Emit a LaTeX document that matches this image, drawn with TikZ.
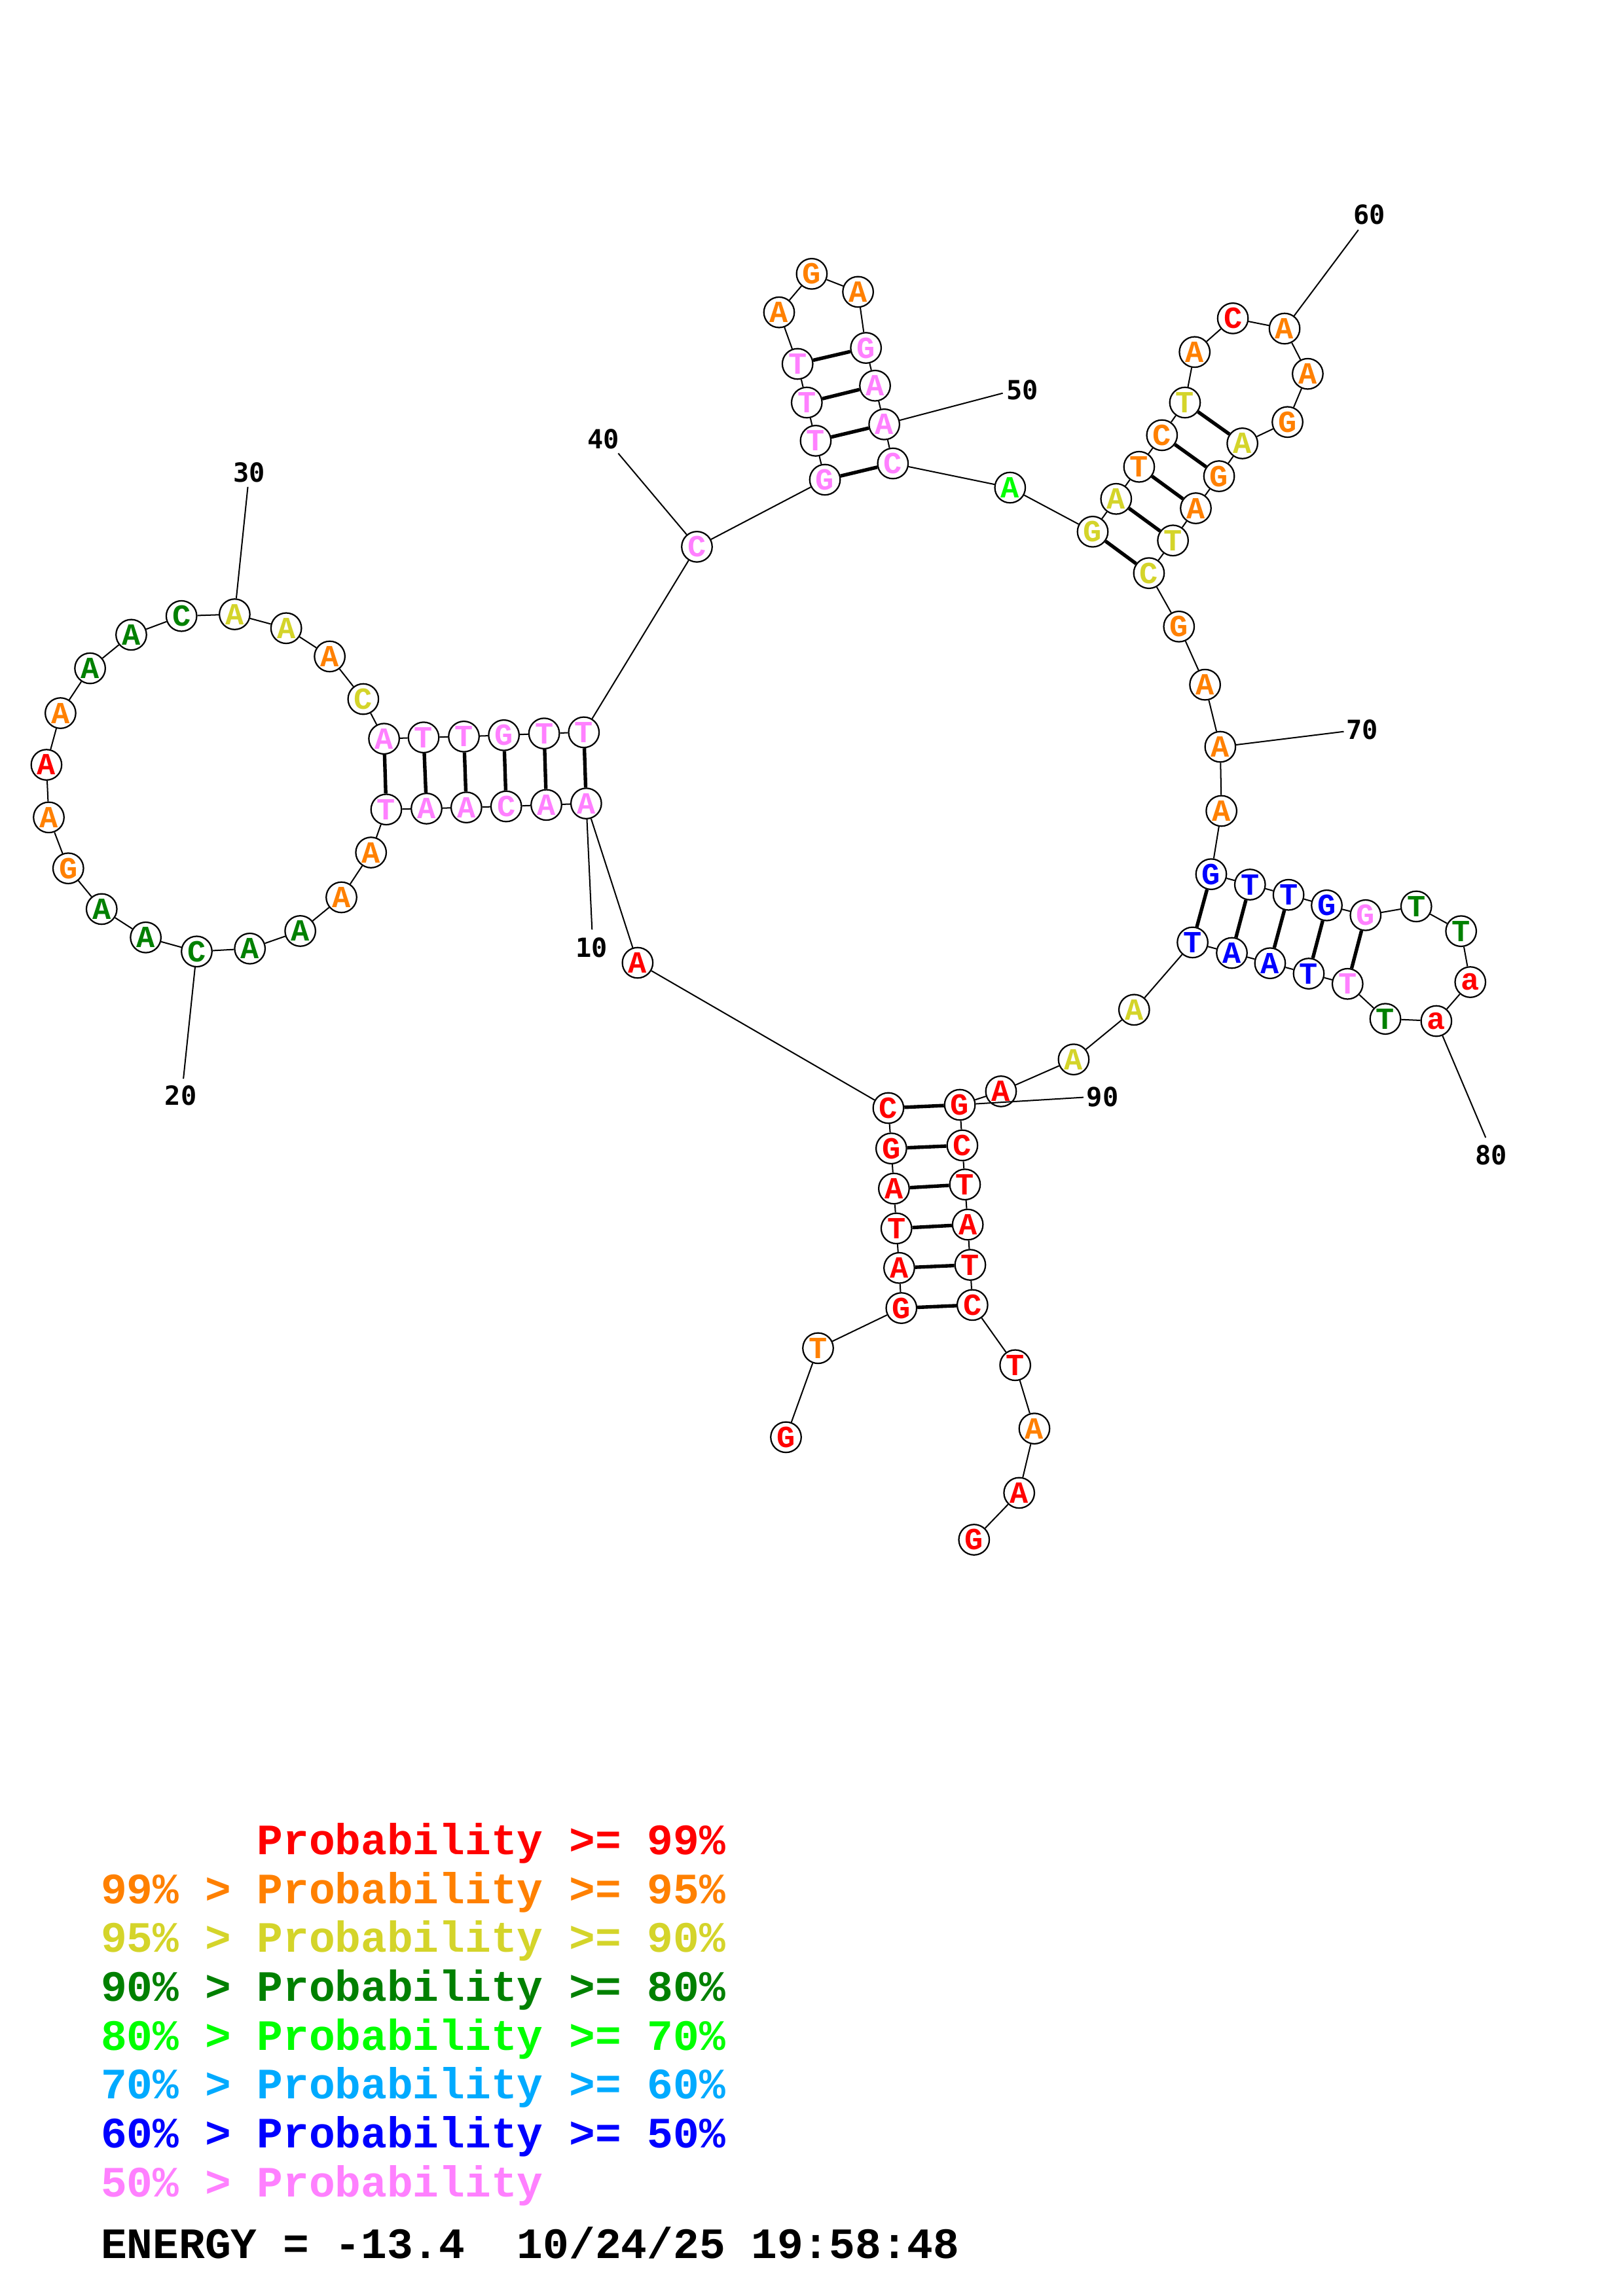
\documentclass[tikz,border=0pt]{standalone}
\usepackage{fontspec}
\usetikzlibrary{backgrounds}
\newfontfamily\bmono{Liberation Mono}
\newfontfamily\lmono{DejaVu Sans Mono}
\definecolor{pR}{RGB}{255,0,0}
\definecolor{pO}{RGB}{255,128,0}
\definecolor{pY}{RGB}{212,212,42}
\definecolor{pD}{RGB}{0,128,0}
\definecolor{pL}{RGB}{0,255,0}
\definecolor{pS}{RGB}{0,170,255}
\definecolor{pB}{RGB}{0,0,255}
\definecolor{pP}{RGB}{255,128,255}
\newcommand{\msp}{\hphantom{0}}
\begin{document}
\begin{tikzpicture}[x=0.5pt,y=-0.5pt,
  nt/.style={circle,draw=black,fill=white,line width=0.5pt,minimum size=10.4pt,inner sep=0pt,font=\bmono\bfseries\fontsize{10.5}{10.5}\selectfont},
  bb/.style={line width=0.45pt},
  bp/.style={line width=1.2pt},
  lbl/.style={font=\lmono\bfseries\fontsize{9}{9}\selectfont,inner sep=0pt},
  lg/.style={anchor=base west,inner sep=0pt,font=\bmono\bfseries\fontsize{14.8}{14.8}\selectfont}]
\useasboundingbox (0,0) rectangle (1108,1568);
\foreach \k/\b/\c/\x/\y in {
1/G/pR/536.6/981.5, 2/T/pO/558.5/920.7, 3/G/pR/615.4/893.3, 4/A/pR/613.9/865.9,
5/T/pR/612.0/838.9, 6/A/pR/610.3/811.7, 7/G/pR/608.5/784.3, 8/C/pR/606.5/756.7,
9/A/pR/435.3/657.5, 10/A/pP/400.2/548.7, 11/A/pP/373.0/549.7, 12/C/pP/345.6/550.7,
13/A/pP/318.4/551.4, 14/A/pP/291.2/552.2, 15/T/pP/263.7/552.8, 16/A/pO/253.3/582.2,
17/A/pO/233.1/612.8, 18/A/pD/205.0/635.8, 19/A/pD/170.6/647.8, 20/C/pD/134.3/649.8,
21/A/pD/99.5/640.2, 22/A/pD/69.4/620.8, 23/G/pO/46.6/593.0, 24/A/pO/33.3/558.2,
25/A/pR/31.7/522.3, 26/A/pO/41.3/487.0, 27/A/pD/61.5/456.4, 28/A/pD/89.6/433.5,
29/C/pD/123.9/420.7, 30/A/pY/160.2/419.5, 31/A/pY/195.4/429.0, 32/A/pO/225.1/448.3,
33/C/pY/248.0/477.4, 34/A/pP/262.2/504.5, 35/T/pP/289.2/503.6, 36/T/pP/316.7/503.0,
37/G/pP/344.0/502.1, 38/T/pP/371.5/500.9, 39/T/pP/398.6/500.1, 40/C/pP/475.8/373.4,
41/G/pP/563.2/327.6, 42/T/pP/556.9/301.0, 43/T/pP/550.8/274.9, 44/T/pP/544.5/248.5,
45/A/pO/531.9/213.3, 46/G/pO/554.2/187.0, 47/A/pO/585.8/199.3, 48/G/pP/591.2/237.6,
49/A/pP/597.4/263.4, 50/A/pP/603.7/289.8, 51/C/pP/609.6/316.5, 52/A/pL/689.6/333.0,
53/G/pY/746.0/363.1, 54/A/pY/762.0/340.7, 55/T/pO/777.7/318.8, 56/C/pO/793.3/297.2,
57/T/pY/809.0/274.9, 58/A/pO/815.6/240.4, 59/C/pR/841.7/217.4, 60/A/pO/877.0/224.4,
61/A/pO/892.8/255.3, 62/G/pO/879.0/288.2, 63/A/pY/848.2/302.8, 64/G/pO/832.3/325.2,
65/A/pO/816.4/347.1, 66/T/pY/800.8/369.1, 67/C/pY/784.4/391.4, 68/G/pO/804.9/427.9,
69/A/pO/822.7/467.6, 70/A/pO/833.1/510.0, 71/A/pO/833.9/553.8, 72/G/pB/826.9/597.0,
73/T/pB/853.4/604.1, 74/T/pB/879.7/611.1, 75/G/pB/905.8/618.3, 76/G/pP/932.3/625.0,
77/T/pD/966.9/619.0, 78/T/pD/997.5/635.9, 79/a/pR/1003.8/670.7, 80/a/pR/980.6/697.3,
81/T/pD/945.8/695.8, 82/T/pP/920.0/671.9, 83/T/pB/893.5/664.9, 84/A/pB/867.1/657.8,
85/A/pB/841.0/650.8, 86/T/pB/814.2/643.6, 87/A/pY/774.3/689.6, 88/A/pY/733.0/723.5,
89/A/pR/683.4/745.3, 90/G/pR/655.3/754.5, 91/C/pR/657.0/782.2, 92/T/pR/658.8/808.9,
93/A/pR/660.7/836.3, 94/T/pR/662.4/863.8, 95/C/pR/663.9/891.2, 96/T/pR/693.1/932.3,
97/A/pO/706.2/975.6, 98/A/pR/695.8/1019.5, 99/G/pR/665.0/1051.5}
  \node[nt,text=\c] (n\k) at (\x,\y) {\b};
\begin{scope}[on background layer]
  \foreach \i [count=\j from 2] in {1,...,98}
    \draw[bb] (n\i) -- (n\j);
  \foreach \p/\q in {3/95,4/94,5/93,6/92,7/91,8/90,10/39,11/38,12/37,13/36,14/35,15/34,
    41/51,42/50,43/49,44/48,53/67,54/66,55/65,56/64,57/63,72/86,73/85,74/84,75/83,76/82}
    \draw[bp] (n\p) -- (n\q);
\end{scope}
\foreach \k/\lx/\ly/\ex/\ey in {10/403.9/647.2/404.2/634.9, 20/123.4/748.2/125.2/736.7,
  30/170.1/322.8/169.2/332.5, 40/412.0/299.8/422.1/309.6, 50/698.0/266.4/684.6/268.5,
  60/934.9/146.6/927.4/157.0, 70/930.1/498.3/917.4/499.6, 80/1017.9/788.9/1014.3/776.9,
  90/752.8/749.1/739.7/749.4}
{
  \node[lbl] (l\k) at (\lx,\ly) {\k};
  \coordinate (e\k) at (\ex,\ey);
  \draw[bb] (n\k) -- (e\k);
}
\node[lg,text=pR] (g1) at (68.5,1266.4) {\msp\msp\msp\msp\msp\msp Probability\msp>=\msp99\%};
\node[lg,text=pO] (g2) at (68.5,1299.8) {99\%\msp>\msp Probability\msp>=\msp95\%};
\node[lg,text=pY] (g3) at (68.5,1333.2) {95\%\msp>\msp Probability\msp>=\msp90\%};
\node[lg,text=pD] (g4) at (68.5,1366.6) {90\%\msp>\msp Probability\msp>=\msp80\%};
\node[lg,text=pL] (g5) at (68.5,1400.0) {80\%\msp>\msp Probability\msp>=\msp70\%};
\node[lg,text=pS] (g6) at (68.5,1433.4) {70\%\msp>\msp Probability\msp>=\msp60\%};
\node[lg,text=pB] (g7) at (68.5,1466.8) {60\%\msp>\msp Probability\msp>=\msp50\%};
\node[lg,text=pP] (g8) at (68.5,1500.2) {50\%\msp>\msp Probability};
\node[lg,text=black] (g9) at (68.5,1542.5) {ENERGY\msp=\msp-13.4\msp\msp10/24/25\msp19:58:48};
\end{tikzpicture}
\end{document}
